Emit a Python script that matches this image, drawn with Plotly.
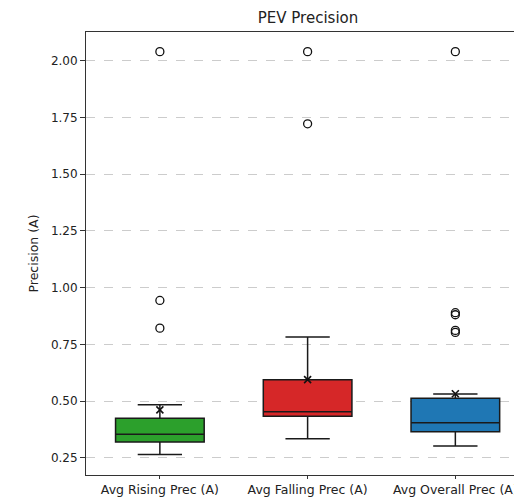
import plotly.graph_objects as go

categories = ["Avg Rising Prec (A)", "Avg Falling Prec (A)", "Avg Overall Prec (A)"]
positions = [1, 2, 3]
q1_vals = [0.32, 0.434, 0.365]
median_vals = [0.355, 0.454, 0.405]
q3_vals = [0.425, 0.595, 0.513]
lower_whisker = [0.265, 0.335, 0.303]
upper_whisker = [0.484, 0.783, 0.532]
mean_vals = [0.462, 0.595, 0.533]
outliers = [
    [0.822, 0.944, 2.04],
    [1.722, 2.04],
    [0.803, 0.812, 0.881, 0.89, 2.04],
]
box_colors = ["#2ca02c", "#d62728", "#1f77b4"]
y_ticks = [0.25, 0.50, 0.75, 1.00, 1.25, 1.50, 1.75, 2.00]

FONT = "DejaVu Sans"
W, H = 514, 497

fig = go.Figure()

for i, cat in enumerate(categories):
    fig.add_trace(go.Box(
        x=[positions[i]],
        q1=[q1_vals[i]], median=[median_vals[i]], q3=[q3_vals[i]],
        lowerfence=[lower_whisker[i]], upperfence=[upper_whisker[i]],
        width=0.6, whiskerwidth=0.5,
        fillcolor=box_colors[i],
        line=dict(color="#1a1a1a", width=1.5),
        boxpoints=False, showlegend=False, hoverinfo="skip",
        name=cat,
    ))

for i in range(len(categories)):
    fig.add_trace(go.Scatter(
        x=[positions[i]] * len(outliers[i]), y=outliers[i], mode="markers",
        marker=dict(symbol="circle-open", size=8, color="#111111", line=dict(width=1.3)),
        showlegend=False, hoverinfo="skip",
    ))

fig.add_trace(go.Scatter(
    x=positions, y=mean_vals, mode="markers",
    marker=dict(symbol="x-thin", size=7, color="#111111", line=dict(width=1.6, color="#111111")),
    showlegend=False, hoverinfo="skip",
))

# axes run from x=0.5 to 3.5 in the original; the window cuts it at ~3.4
plot_left, plot_right_full = 86, 86 + 444
title_x = ((plot_left + plot_right_full) / 2) / W

fig.update_layout(
    width=W, height=H,
    margin=dict(l=plot_left, r=0, t=32, b=22, autoexpand=False),
    paper_bgcolor="white", plot_bgcolor="white",
    font=dict(family=FONT, size=12, color="#222222"),
    title=dict(text="PEV Precision", x=title_x, xanchor="center", xref="container",
               y=1 - 18 / H, yanchor="middle", yref="container",
               font=dict(family=FONT, size=15, color="#222222")),
    xaxis=dict(
        range=[0.5, 3.397], tickmode="array", tickvals=positions, ticktext=categories,
        showgrid=False, zeroline=False, showline=True, linecolor="#333333", linewidth=1,
        mirror=True, ticks="outside", ticklen=3, tickcolor="#333333",
        tickfont=dict(size=12.5), ticklabeloverflow="allow",
    ),
    yaxis=dict(
        range=[0.175, 2.1265], tickmode="array", tickvals=y_ticks,
        ticktext=[f"{v:.2f}" for v in y_ticks],
        showgrid=True, gridcolor="#cccccc", griddash="dash", gridwidth=0.8,
        zeroline=False, showline=True, linecolor="#333333", linewidth=1, mirror=False,
        ticks="outside", ticklen=5, tickcolor="#333333",
        title=dict(text="Precision (A)", standoff=9, font=dict(size=12.5)),
        tickfont=dict(size=12),
    ),
)

fig.write_html(
    "out.html",
    config={"displayModeBar": False},
    post_script="document.body.style.margin='0';",
)
